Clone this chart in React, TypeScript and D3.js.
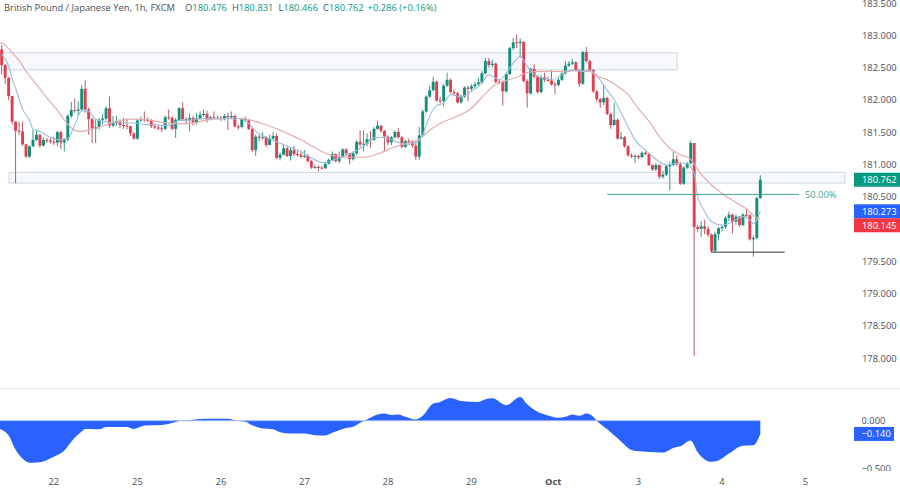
import * as d3 from "d3";

// candle 0 opens here, every later candle opens on the previous close
const firstOpen = 182.78;

const closes = [
  182.54, 182.34, 182.06, 181.66, 181.52, 181.51, 181.31, 181.12, 181.28, 181.38,
  181.46, 181.29, 181.38, 181.37, 181.35, 181.34, 181.5, 181.34, 181.38, 181.75,
  181.84, 181.83, 181.85, 182.17, 181.85, 181.7, 181.55, 181.58, 181.69, 181.71,
  181.87, 181.6, 181.64, 181.66, 181.61, 181.6, 181.59, 181.48, 181.4, 181.68,
  181.7, 181.69, 181.68, 181.59, 181.57, 181.56, 181.55, 181.73, 181.72, 181.55,
  181.69, 181.87, 181.7, 181.69, 181.72, 181.65, 181.71, 181.77, 181.78, 181.69,
  181.73, 181.72, 181.72, 181.7, 181.75, 181.73, 181.75, 181.59, 181.58, 181.7,
  181.68, 181.55, 181.22, 181.43, 181.41, 181.42, 181.3, 181.4, 181.44, 181.1,
  181.15, 181.25, 181.13, 181.22, 181.16, 181.15, 181.12, 181.13, 181.05, 180.95,
  180.96, 180.95, 180.94, 181.01, 181.07, 181.16, 181.05, 181.11, 181.23, 181.17,
  181.08, 181.17, 181.35, 181.31, 181.32, 181.39, 181.38, 181.55, 181.6, 181.52,
  181.43, 181.34, 181.42, 181.5, 181.42, 181.27, 181.36, 181.35, 181.29, 181.12,
  181.45, 181.82, 182.05, 182.15, 182.28, 181.99, 181.98, 182.22, 182.31, 182.12,
  182.1, 181.96, 182.05, 182.19, 182.17, 182.21, 182.24, 182.27, 182.41, 182.6,
  182.54, 182.56, 182.28, 182.27, 182.13, 182.4, 182.8, 182.89, 182.88, 182.9,
  182.29, 182.1, 182.48, 182.36, 182.12, 182.35, 182.31, 182.3, 182.24, 182.23,
  182.31, 182.41, 182.53, 182.56, 182.58, 182.46, 182.25, 182.74, 182.6, 182.46,
  182.13, 182.01, 181.96, 182.03, 181.78, 181.61, 181.69, 181.4, 181.42, 181.28,
  181.14, 181.12, 181.13, 181.11, 181.18, 181.16, 180.99, 180.92, 180.99, 180.81,
  180.84, 180.97, 180.99, 181.08, 181.0, 180.7, 180.95, 181.02, 181.33, 180.03,
  180.0, 180.04, 180.0, 179.91, 179.66, 179.92, 180.01, 180.03, 180.17, 180.22,
  180.11, 180.19, 180.06, 180.22, 180.21, 179.84, 179.86, 180.48, 180.762,
];

const highs = [
  182.85, 182.55, 182.35, 182.06, 181.67, 181.66, 181.66, 181.32, 181.29, 181.54,
  181.54, 181.47, 181.42, 181.41, 181.42, 181.42, 181.52, 181.52, 181.41, 181.78,
  181.97, 182.02, 181.98, 182.23, 182.3, 181.88, 181.72, 181.7, 181.72, 181.78,
  181.9, 182.05, 181.75, 181.75, 181.7, 181.72, 181.71, 181.6, 181.5, 181.7,
  181.74, 181.82, 181.73, 181.7, 181.63, 181.62, 181.61, 181.76, 181.85, 181.75,
  181.72, 181.89, 181.96, 181.73, 181.79, 181.75, 181.8, 181.82, 181.85, 181.83,
  181.75, 181.82, 181.76, 181.75, 181.78, 181.8, 181.82, 181.77, 181.62, 181.72,
  181.74, 181.7, 181.56, 181.46, 181.46, 181.5, 181.44, 181.46, 181.5, 181.48,
  181.18, 181.32, 181.27, 181.26, 181.29, 181.21, 181.19, 181.22, 181.16, 181.07,
  181.0, 180.99, 180.98, 181.03, 181.09, 181.2, 181.17, 181.2, 181.25, 181.25,
  181.18, 181.2, 181.37, 181.53, 181.53, 181.48, 181.52, 181.58, 181.68, 181.61,
  181.53, 181.45, 181.44, 181.53, 181.56, 181.44, 181.38, 181.4, 181.38, 181.37,
  181.58, 181.85, 182.07, 182.22, 182.36, 182.3, 182.05, 182.24, 182.42, 182.33,
  182.16, 182.12, 182.08, 182.21, 182.22, 182.24, 182.28, 182.34, 182.45, 182.65,
  182.65, 182.62, 182.58, 182.32, 182.3, 182.42, 182.82, 182.96, 183.01, 182.95,
  182.9, 182.32, 182.5, 182.55, 182.38, 182.38, 182.42, 182.36, 182.46, 182.28,
  182.34, 182.43, 182.6, 182.6, 182.63, 182.6, 182.48, 182.76, 182.82, 182.62,
  182.48, 182.15, 182.03, 182.23, 182.05, 181.8, 181.95, 181.71, 181.5, 181.44,
  181.3, 181.17, 181.16, 181.15, 181.2, 181.2, 181.18, 181.0, 181.02, 181.0,
  180.9, 180.99, 181.04, 181.2, 181.14, 181.04, 180.97, 181.04, 181.37, 181.33,
  180.06, 180.12, 180.14, 180.04, 179.93, 179.96, 180.03, 180.06, 180.2, 180.27,
  180.24, 180.22, 180.2, 180.25, 180.31, 180.23, 179.9, 180.5, 180.831,
];

const lows = [
  182.39, 182.25, 182.0, 181.62, 180.71, 181.45, 181.29, 181.1, 181.1, 181.27,
  181.36, 181.26, 181.28, 181.33, 181.32, 181.3, 181.28, 181.24, 181.2, 181.36,
  181.72, 181.8, 181.75, 181.82, 181.8, 181.46, 181.33, 181.33, 181.54, 181.62,
  181.68, 181.56, 181.58, 181.6, 181.56, 181.55, 181.54, 181.44, 181.38, 181.38,
  181.66, 181.66, 181.65, 181.56, 181.55, 181.53, 181.5, 181.53, 181.69, 181.53,
  181.41, 181.67, 181.68, 181.64, 181.51, 181.6, 181.62, 181.7, 181.74, 181.65,
  181.68, 181.7, 181.69, 181.67, 181.68, 181.53, 181.7, 181.57, 181.54, 181.56,
  181.66, 181.53, 181.19, 181.13, 181.36, 181.38, 181.27, 181.3, 181.38, 181.08,
  181.06, 181.14, 181.11, 181.06, 181.13, 181.12, 181.1, 181.1, 181.03, 180.93,
  180.93, 180.89, 180.92, 180.93, 181.0, 181.05, 181.03, 181.02, 181.1, 181.14,
  181.0, 181.06, 181.15, 181.27, 181.2, 181.28, 181.25, 181.36, 181.54, 181.49,
  181.2, 181.3, 181.3, 181.4, 181.4, 181.25, 181.25, 181.3, 181.26, 181.07,
  181.07, 181.43, 181.8, 182.03, 182.13, 181.97, 181.95, 181.9, 182.2, 182.1,
  182.07, 181.94, 181.94, 182.03, 181.98, 182.14, 182.18, 182.22, 182.25, 182.39,
  182.5, 182.5, 182.26, 182.24, 181.91, 182.11, 182.38, 182.77, 182.8, 182.65,
  182.27, 181.88, 182.08, 182.33, 182.1, 182.1, 182.28, 182.28, 182.22, 182.09,
  182.21, 182.29, 182.39, 182.51, 182.54, 182.44, 182.2, 182.23, 182.58, 182.44,
  182.11, 181.97, 181.88, 181.92, 181.76, 181.55, 181.6, 181.38, 181.38, 181.26,
  181.12, 181.1, 181.02, 181.08, 181.1, 181.14, 180.97, 180.9, 180.9, 180.78,
  180.78, 180.82, 180.6, 180.97, 180.98, 180.68, 180.68, 180.93, 181.0, 178.03,
  179.95, 179.88, 179.92, 179.88, 179.64, 179.64, 179.82, 179.96, 180.0, 180.12,
  179.93, 180.06, 180.03, 180.04, 180.18, 179.82, 179.57, 179.84, 180.466,
];

// fast average as [candle, price]
const fastAverage: [number, number][] = [
  [0, 182.7], [2, 182.52], [3, 182.33], [4, 182.18], [6, 181.86], [8, 181.68], [9, 181.55],
  [11, 181.51], [14, 181.42], [17, 181.38], [19, 181.4], [21, 181.61], [23, 181.83], [25, 181.82],
  [27, 181.7], [30, 181.66], [34, 181.64], [38, 181.64], [41, 181.62], [45, 181.61], [48, 181.6],
  [51, 181.68], [55, 181.69], [59, 181.71], [64, 181.71], [68, 181.71], [71, 181.64], [73, 181.51],
  [76, 181.42], [79, 181.35], [82, 181.28], [86, 181.2], [89, 181.1], [92, 181.03], [94, 181.04],
  [97, 181.1], [100, 181.16], [104, 181.28], [107, 181.41], [110, 181.42], [113, 181.36], [116, 181.31],
  [119, 181.33], [121, 181.46], [123, 181.75], [125, 181.91], [127, 181.95], [129, 182.08], [132, 182.05],
  [135, 182.13], [138, 182.26], [140, 182.39], [143, 182.31], [145, 182.41], [147, 182.57], [149, 182.67],
  [151, 182.52], [154, 182.36], [158, 182.31], [161, 182.39], [164, 182.46], [167, 182.44], [169, 182.46],
  [170, 182.43], [172, 182.31], [174, 182.15], [176, 182.0], [178, 181.8], [180, 181.58], [182, 181.38],
  [185, 181.22], [188, 181.08], [191, 180.99], [193, 181.01], [195, 181.02], [197, 181.01], [199, 180.86],
  [200, 180.5], [202, 180.27], [204, 180.11], [207, 180.06], [210, 180.11], [213, 180.19], [215, 180.14],
  [216, 180.08], [217, 180.14], [218, 180.273],
];

// slow average as [candle, price]
const slowAverage: [number, number][] = [
  [-1, 182.9], [1, 182.85], [3, 182.73], [5, 182.61], [7, 182.44], [10, 182.24], [13, 182.03],
  [16, 181.84], [19, 181.62], [21, 181.53], [23, 181.51], [26, 181.55], [30, 181.61], [34, 181.68],
  [38, 181.7], [42, 181.69], [46, 181.65], [50, 181.63], [55, 181.64], [59, 181.69], [64, 181.71],
  [69, 181.71], [72, 181.68], [76, 181.61], [80, 181.53], [84, 181.43], [86, 181.38], [89, 181.29],
  [92, 181.2], [95, 181.14], [100, 181.11], [104, 181.11], [108, 181.16], [112, 181.25], [116, 181.32],
  [120, 181.39], [123, 181.53], [127, 181.66], [131, 181.75], [135, 181.87], [139, 182.1], [142, 182.24],
  [145, 182.3], [148, 182.35], [151, 182.42], [155, 182.44], [160, 182.44], [165, 182.45], [169, 182.44],
  [171, 182.37], [174, 182.31], [177, 182.21], [180, 182.08], [183, 181.86], [186, 181.67], [189, 181.43],
  [192, 181.25], [195, 181.15], [198, 181.08], [200, 180.92], [203, 180.73], [207, 180.55], [211, 180.41],
  [214, 180.31], [216, 180.21], [218, 180.145],
];

// lower pane oscillator, [candle, value]
const oscillator: [number, number][] = [
  [-1, -0.08], [2, -0.156], [4, -0.306], [6, -0.4], [8, -0.444], [10, -0.441], [12, -0.43], [15, -0.382],
  [18, -0.316], [20, -0.222], [23, -0.115], [24, -0.087], [26, -0.087], [28, -0.09], [30, -0.066], [36, -0.066],
  [38, -0.087], [41, -0.052], [46, -0.045], [49, -0.024], [51, -0.003], [54, 0.007], [58, 0.021], [65, 0.021],
  [68, -0.003], [70, -0.01], [72, -0.049], [75, -0.083], [78, -0.09], [80, -0.122], [83, -0.135], [87, -0.135],
  [90, -0.153], [93, -0.156], [95, -0.128], [99, -0.076], [101, -0.063], [103, -0.021], [105, 0.014], [108, 0.066],
  [110, 0.076], [112, 0.059], [114, 0.066], [116, 0.042], [119, 0.014], [121, 0.052], [124, 0.181], [126, 0.198],
  [128, 0.233], [129, 0.24], [132, 0.208], [137, 0.198], [139, 0.226], [141, 0.236], [145, 0.163], [149, 0.25],
  [151, 0.174], [154, 0.094], [157, 0.056], [160, 0.031], [162, 0.042], [164, 0.066], [166, 0.052], [168, 0.076],
  [170, 0.042], [171, 0], [174, -0.09], [178, -0.219], [181, -0.309], [184, -0.326], [188, -0.333], [190, -0.337],
  [193, -0.288], [195, -0.271], [198, -0.208], [200, -0.333], [204, -0.434], [206, -0.42], [209, -0.347], [213, -0.264],
  [216, -0.26], [218, -0.14],
];

const priceTicks = [183.5, 183, 182.5, 182, 181.5, 181, 180.5, 179.5, 179, 178.5, 178];
const dayTicks = [15, 39, 63, 87, 111, 135, 158.5, 183, 207, 231];
const dayLabels = ["22", "25", "26", "27", "28", "29", "Oct", "3", "4", "5"];
const oscTicks = [0, -0.5];

// supply/demand boxes: [first candle, last candle, top price, bottom price]
const zones: [number, number, number, number][] = [
  [-1, 194.1, 182.73, 182.465],
  [2.1, 242.3, 180.876, 180.71],
];
const fiftyLine = { from: 174, to: 229.1, price: 180.535 };
const lowLine = { from: 203.8, to: 225, price: 179.64 };

const tagPrices = [180.762, 180.273, 180.145];
const tagColors = ["#089981", "#2962ff", "#f23645"];

const legend = [
  { key: "O", value: "180.476" },
  { key: "H", value: "180.831" },
  { key: "L", value: "180.466" },
  { key: "C", value: "180.762" },
];

const UP = "#0f8f7c";
const DOWN = "#e03f4e";
const UP_WICK = "#3a9a8b";
const DOWN_WICK = "#bb5a66";
const LEGEND_VALUE = "#089981";
const AXIS_TEXT = "#4a4e59";
const FONT = "'Open Sans', Lato, sans-serif";
const FONT_SIZE = 9.4;

const x = d3.scaleLinear().domain([0, 218]).range([1.67, 760.3]);
const y = d3.scaleLinear().domain([178, 183.5]).range([358, 3]);
const yOsc = d3.scaleLinear().domain([-0.5, 0]).range([468, 420.7]);

// price tags get pushed down when they would sit on top of each other
const tagH = 14;
const tagCenters: number[] = [];
tagPrices.forEach((p, i) => {
  const c = y(p);
  tagCenters.push(i > 0 ? Math.max(c, tagCenters[i - 1] + tagH) : c);
});

export default function App() {
  const avgLine = d3
    .line<[number, number]>()
    .x((d) => x(d[0]))
    .y((d) => y(d[1]))
    .curve(d3.curveMonotoneX);

  const oscArea = d3
    .area<[number, number]>()
    .x((d) => x(d[0]))
    .y0(yOsc(0))
    .y1((d) => yOsc(d[1]))
    .curve(d3.curveMonotoneX);

  return (
    <svg
      width={900}
      height={490}
      style={{ position: "absolute", left: 0, top: 0, background: "#fff" }}
      fontFamily={FONT}
      fontSize={FONT_SIZE}
    >
      <defs>
        <clipPath id="osc-axis">
          <rect x={850} y={390} width={50} height={81} />
        </clipPath>
      </defs>

      {/* zones */}
      {zones.map((z, i) => (
        <rect
          key={i}
          x={x(z[0])}
          y={y(z[2])}
          width={x(z[1]) - x(z[0])}
          height={y(z[3]) - y(z[2])}
          fill="#f6f8fb"
          stroke="#ccd8e6"
          strokeWidth={1}
        />
      ))}

      {/* candles */}
      {closes.map((c, i) => {
        const o = i === 0 ? firstOpen : closes[i - 1];
        const isUp = c >= o;
        const top = y(Math.max(o, c));
        return (
          <g key={i}>
            <line
              x1={x(i)}
              x2={x(i)}
              y1={y(highs[i])}
              y2={y(lows[i])}
              stroke={isUp ? UP_WICK : DOWN_WICK}
              strokeWidth={1}
            />
            <rect
              x={x(i) - 1.45}
              y={top}
              width={2.9}
              height={Math.max(1, y(Math.min(o, c)) - top)}
              fill={isUp ? UP : DOWN}
            />
          </g>
        );
      })}

      {/* averages */}
      <path d={avgLine(slowAverage) ?? ""} fill="none" stroke="#e3adad" strokeWidth={1.2} />
      <path d={avgLine(fastAverage) ?? ""} fill="none" stroke="#9dbcd9" strokeWidth={1.1} />

      {/* drawn levels */}
      <line
        x1={x(fiftyLine.from)}
        x2={x(fiftyLine.to)}
        y1={y(fiftyLine.price)}
        y2={y(fiftyLine.price)}
        stroke="#3fa597"
        strokeWidth={1}
      />
      <text x={x(fiftyLine.to) + 6} y={y(fiftyLine.price) + 3.5} fill="#3fa597">
        50.00%
      </text>
      <line
        x1={x(lowLine.from)}
        x2={x(lowLine.to)}
        y1={y(lowLine.price)}
        y2={y(lowLine.price)}
        stroke="#333"
        strokeWidth={1}
      />

      {/* pane separator */}
      <line x1={0} x2={900} y1={388.5} y2={388.5} stroke="#e4e6ec" strokeWidth={1} />

      {/* oscillator */}
      <path d={oscArea(oscillator) ?? ""} fill="#2962ff" />
      <line x1={0} x2={x(218)} y1={yOsc(0)} y2={yOsc(0)} stroke="#9fb9f5" strokeWidth={1} />

      {/* price axis */}
      {priceTicks.map((t) => (
        <text key={t} x={862} y={y(t) + 3.5} fill={AXIS_TEXT}>
          {t.toFixed(3)}
        </text>
      ))}
      {tagPrices.map((p, i) => (
        <g key={p}>
          <rect x={854} y={tagCenters[i] - tagH / 2} width={46} height={tagH} fill={tagColors[i]} />
          <text x={862} y={tagCenters[i] + 3.5} fill="#fff">
            {p.toFixed(3)}
          </text>
        </g>
      ))}

      {/* oscillator axis */}
      <g clipPath="url(#osc-axis)">
        {oscTicks.map((t) => (
          <text key={t} x={861.5} y={yOsc(t) + 3.5} fill={AXIS_TEXT}>
            {t === 0 ? t.toFixed(3) : `\u2212${Math.abs(t).toFixed(3)}`}
          </text>
        ))}
      </g>
      <rect x={854} y={yOsc(-0.14) - 7} width={40} height={14} fill="#2962ff" />
      <text x={861.5} y={yOsc(-0.14) + 3.5} fill="#fff">
        {"\u22120.140"}
      </text>

      {/* time axis */}
      {dayTicks.map((d, i) => (
        <text
          key={d}
          x={x(d)}
          y={485}
          fill={AXIS_TEXT}
          textAnchor="middle"
          fontWeight={dayLabels[i] === "Oct" ? 700 : 400}
        >
          {dayLabels[i]}
        </text>
      ))}

      {/* legend */}
      <text x={4} y={10.5} fill={AXIS_TEXT}>
        British Pound / Japanese Yen, 1h, FXCM
        {legend.map((l, i) => (
          <tspan key={l.key} dx={i === 0 ? 10 : 5}>
            {l.key}
            <tspan fill={LEGEND_VALUE}>{l.value}</tspan>
          </tspan>
        ))}
        <tspan dx={4} fill={LEGEND_VALUE}>
          +0.286 (+0.16%)
        </tspan>
      </text>
    </svg>
  );
}
